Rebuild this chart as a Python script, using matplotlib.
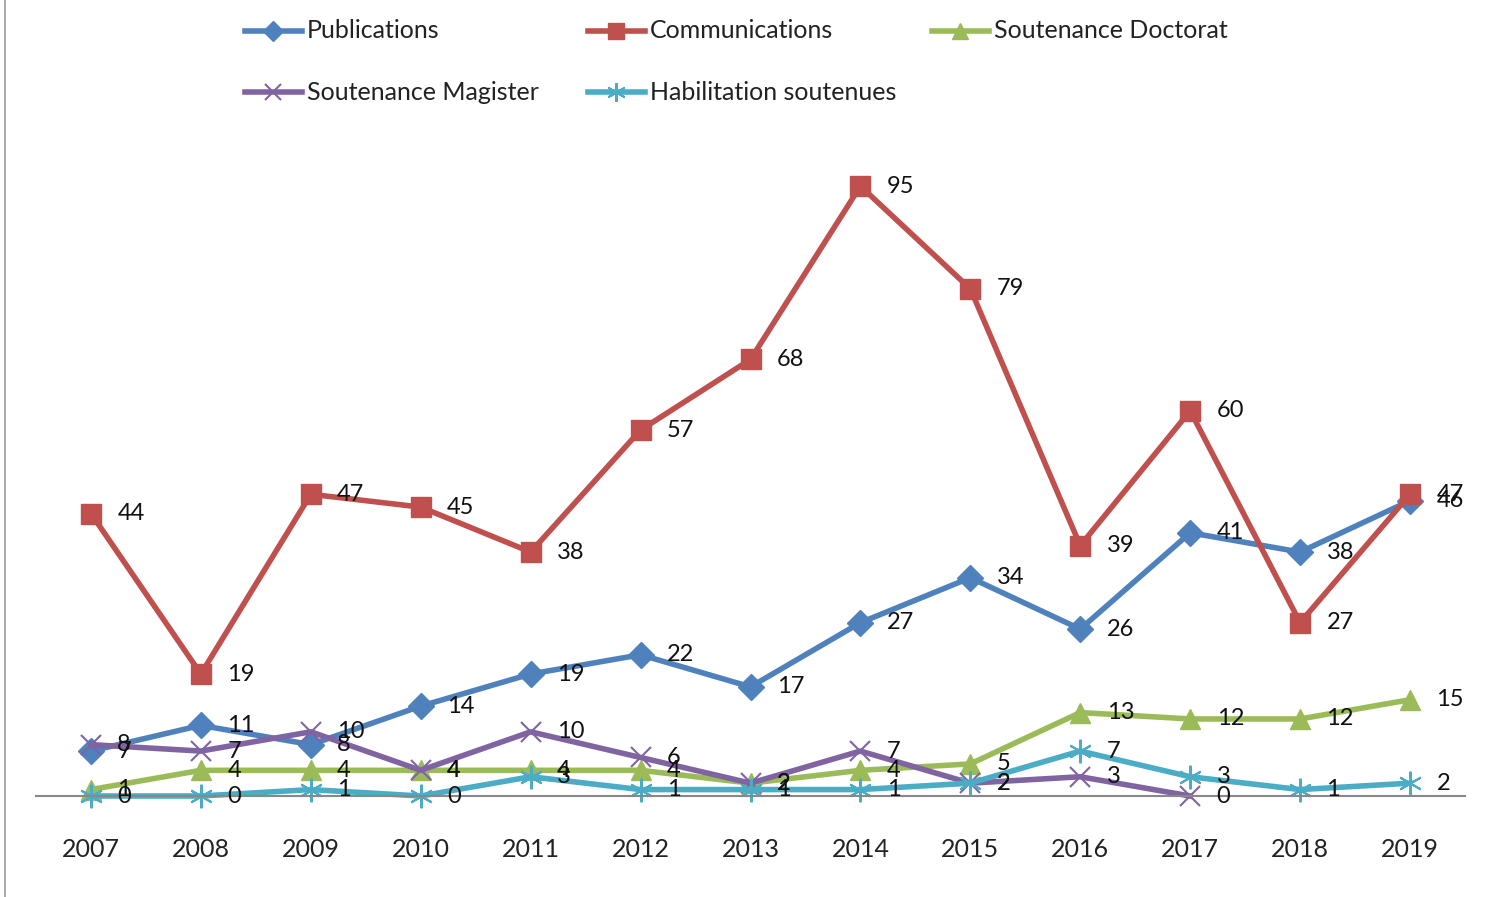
import matplotlib.pyplot as plt
from matplotlib.lines import Line2D
import numpy as np

years = ["2007", "2008", "2009", "2010", "2011", "2012", "2013",
         "2014", "2015", "2016", "2017", "2018", "2019"]

publications = [7, 11, 8, 14, 19, 22, 17, 27, 34, 26, 41, 38, 46]
communications = [44, 19, 47, 45, 38, 57, 68, 95, 79, 39, 60, 27, 47]
doctorat = [1, 4, 4, 4, 4, 4, 2, 4, 5, 13, 12, 12, 15]
magister = [8, 7, 10, 4, 10, 6, 2, 7, 2, 3, 0, np.nan, np.nan]
habilitation = [0, 0, 1, 0, 3, 1, 1, 1, 2, 7, 3, 1, 2]

series = [
    ("Publications", publications, "#4F81BD", "D", 13),
    ("Communications", communications, "#C0504D", "s", 15),
    ("Soutenance Doctorat", doctorat, "#9BBB59", "^", 15),
    ("Soutenance Magister", magister, "#8064A2", "x", 15),
    ("Habilitation soutenues", habilitation, "#4BACC6", (6, 2, 0), 17),
]

W, H = 1485, 897
fig = plt.figure(figsize=(W / 100, H / 100), dpi=100)
ax = fig.add_axes([36 / W, 101 / H, 1429 / W, 642 / H])
x = np.arange(len(years))

for name, vals, color, marker, ms in series:
    mew = 1.5 if marker in ("x", (6, 2, 0)) else 1
    ax.plot(x, vals, color=color, lw=4, marker=marker, markersize=ms,
            markeredgewidth=mew, markeredgecolor=color, clip_on=False)
    for xi, v in zip(x, vals):
        if np.isnan(v):
            continue
        ax.annotate(str(int(v)), (xi, v), xytext=(19, 0), textcoords="offset points",
                    fontsize=17, va="center", ha="left", color="#111111",
                    family="Lato", zorder=10)

ax.set_xlim(-0.5, len(years) - 0.5)
ax.set_ylim(0, 100)
ax.set_xticks(x)
ax.set_xticklabels(years, fontsize=18, family="Lato", color="#222222")
ax.tick_params(axis="x", length=0, pad=30)
ax.set_yticks([])
for side in ("top", "right", "left"):
    ax.spines[side].set_visible(False)
ax.spines["bottom"].set_color("#888888")
ax.spines["bottom"].set_linewidth(1.5)

# legend laid out like the Excel one: 3 entries on the first row, 2 on the second
legend_pos = [(245, 31), (588, 31), (932, 31), (245, 92), (588, 92)]
for (name, vals, color, marker, ms), (lx, ly) in zip(series, legend_pos):
    xs = [lx / W, (lx + 57) / W]
    ys = [1 - ly / H] * 2
    mew = 1.5 if marker in ("x", (6, 2, 0)) else 1
    fig.add_artist(Line2D(xs, ys, color=color, lw=4))
    fig.add_artist(Line2D([(lx + 28) / W], [ys[0]], color=color, marker=marker,
                          markersize=ms * 0.8, markeredgewidth=mew,
                          markeredgecolor=color, lw=0))
    fig.text((lx + 62) / W, ys[0], name, fontsize=18, family="Lato",
             va="center", ha="left", color="#222222")

# chart frame edge on the left
fig.add_artist(Line2D([5 / W, 5 / W], [0, 1], color="#999999", lw=1.2))

fig.savefig("out.png", dpi=100)
